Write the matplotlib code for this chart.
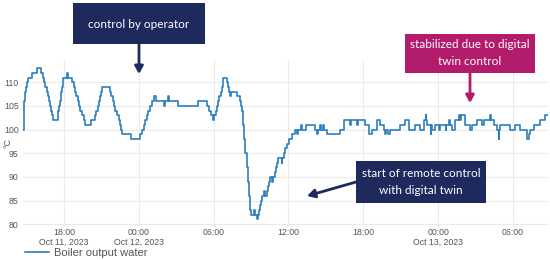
import matplotlib.pyplot as plt
import pandas as pd

# hours since Oct 11, 2023 00:00 and boiler output temperature (°C)
hours = [
    14.73, 14.78, 14.83, 14.88, 14.95, 15.03, 15.13, 15.40, 15.80, 16.15,
    16.33, 16.42, 16.51, 16.60, 16.69, 16.78, 16.87, 16.96, 17.05, 17.14,
    17.48, 17.54, 17.60, 17.66, 17.72, 17.78, 17.84, 17.89, 17.94, 18.20,
    18.30, 18.66, 18.77, 18.88, 18.99, 19.10, 19.21, 19.32, 19.45, 19.57,
    19.68, 20.16, 20.48, 20.60, 20.70, 20.80, 20.90, 20.98, 21.07, 21.68,
    21.80, 21.90, 22.00, 22.12, 22.25, 22.38, 22.50, 22.56, 22.62, 23.35,
    24.10, 24.25, 24.38, 24.50, 24.62, 24.76, 24.90, 25.09, 25.25, 25.35,
    26.00, 26.10, 26.33, 26.42, 27.17, 28.78, 29.45, 29.60, 29.75, 29.92,
    30.05, 30.15, 30.25, 30.35, 30.45, 30.55, 30.65, 30.72, 30.78, 31.06,
    31.15, 31.25, 31.32, 31.40, 31.86, 32.13, 32.22, 32.30,
    32.36, 32.45, 32.55, 32.65, 32.75, 32.85, 32.93, 33.01, 33.25, 33.32,
    33.46, 33.55, 33.62, 33.70, 33.78, 33.87, 34.00, 34.08, 34.30, 34.38,
    34.45, 34.52, 34.70, 34.75, 34.90, 35.00, 35.07, 35.12, 35.45, 35.50,
    35.62, 35.75, 35.90, 36.05, 36.25, 36.50, 36.70, 36.80, 37.00, 37.10,
    37.42, 38.14, 38.25, 38.35, 38.55, 38.62, 38.80, 38.88, 39.08, 40.15,
    40.42, 40.95, 41.05, 41.50, 41.55, 42.15, 42.42, 42.69, 43.09, 43.36,
    43.62, 43.75, 43.85, 44.00, 44.10, 44.96, 45.36, 45.63, 46.16, 46.57,
    46.84, 47.00, 47.06, 47.10, 47.40, 47.46, 47.51, 47.77, 48.10, 48.15,
    48.60, 48.65, 48.84, 48.95, 49.11, 49.38, 49.64, 49.75, 49.85, 50.18,
    50.58, 50.70, 51.12, 51.52, 51.70, 52.18, 52.25, 52.45, 52.70, 52.85,
    52.92, 52.99, 53.79, 54.19, 54.59, 55.13, 55.25, 55.39, 55.66, 56.20,
    56.60, 56.84,
]
temps = [
    100, 103, 106, 108, 109, 110, 111, 112, 113, 112,
    111, 110, 109, 108, 107, 106, 105, 104, 103, 102,
    103, 104, 105, 106, 107, 108, 109, 110, 111, 112,
    111, 110, 109, 108, 107, 106, 105, 104, 103, 102,
    101, 102, 103, 104, 105, 106, 107, 108, 109, 108,
    107, 106, 105, 104, 103, 102, 101, 100, 99, 98,
    99, 100, 101, 102, 103, 104, 105, 106, 107, 106,
    105, 106, 107, 106, 105, 106, 105, 104, 103, 102,
    103, 104, 105, 106, 107, 108, 109, 110, 111, 110,
    109, 108, 107, 108, 107, 106, 105, 104,
    101, 98, 95, 92, 89, 86, 83, 82, 83, 82,
    81, 82, 83, 84, 85, 86, 87, 86, 87, 88,
    89, 90, 89, 90, 91, 92, 93, 94, 93, 94,
    95, 96, 97, 98, 99, 100, 99, 100, 101, 100,
    101, 100, 99, 100, 101, 100, 101, 100, 99, 100,
    102, 101, 102, 101, 102, 101, 99, 100, 102, 101,
    100, 99, 100, 99, 100, 101, 102, 100, 101, 100,
    102, 103, 102, 101, 99, 101, 100, 101, 100, 101,
    100, 101, 102, 101, 100, 102, 103, 102, 103, 101,
    100, 101, 102, 101, 102, 103, 102, 101, 100, 98,
    100, 101, 100, 101, 100, 98, 99, 100, 101, 102,
    103, 103,
]

tick_hours = [18, 24, 30, 36, 42, 48, 54]
tick_labels = ["18:00\nOct 11, 2023", "00:00\nOct 12, 2023", "06:00", "12:00",
               "18:00", "00:00\nOct 13, 2023", "06:00"]
y_ticks = [80, 85, 90, 95, 100, 105, 110]

base = pd.Timestamp("2023-10-11")
times = base + pd.to_timedelta(hours, unit="h")
tick_times = base + pd.to_timedelta(tick_hours, unit="h")

navy = "#1e2a5e"
magenta = "#b31b6b"
line_color = "#2b7fc1"
grey = "#555555"

fig = plt.figure(figsize=(5.5, 2.6), dpi=100)
ax = fig.add_axes([23 / 550, 1 - 227 / 260, 525 / 550, 167 / 260])

ax.plot(times, temps, drawstyle="steps-post", color=line_color, lw=1.2,
        label="Boiler output water")

ax.set_xlim(base + pd.Timedelta(hours=14.71), base + pd.Timedelta(hours=56.81))
ax.set_ylim(79.4, 114.7)
ax.set_xticks(tick_times)
ax.set_xticklabels(tick_labels, family="Liberation Sans", fontsize=6.3,
                   color=grey, linespacing=1.05)
ax.set_yticks(y_ticks)
ax.set_yticklabels([str(v) for v in y_ticks], family="Liberation Sans",
                   fontsize=6.3, color=grey)
ax.tick_params(axis="x", length=0, pad=1)
ax.tick_params(axis="y", length=0, pad=3)
ax.grid(color="#ebebeb", lw=0.8)
for s in ax.spines.values():
    s.set_visible(False)

fig.text(8 / 550, 1 - 143 / 260, "°C", rotation=90, ha="center", va="center",
         fontsize=6.5, color=grey, family="Liberation Sans")

fig.legend(loc="center left", bbox_to_anchor=(25 / 550, 1 - 253 / 260),
           frameon=False, prop={"family": "Liberation Sans", "size": 8},
           handlelength=2.2, handletextpad=0.4, labelcolor=grey,
           borderpad=0, borderaxespad=0)

box_font = {"family": "Lato", "size": 8.5, "color": "white"}


def box(x0, y0, x1, y1, color):
    fig.patches.append(plt.Rectangle((x0 / 550, 1 - y1 / 260), (x1 - x0) / 550,
                                     (y1 - y0) / 260, transform=fig.transFigure,
                                     fc=color, ec="none", zorder=3))


def arrow(x0, y0, x1, y1, color):
    ax.annotate("", xy=(x1, 260 - y1), xytext=(x0, 260 - y0),
                xycoords="figure pixels", textcoords="figure pixels",
                arrowprops=dict(arrowstyle="-|>,head_width=0.25,head_length=0.45",
                                color=color, lw=2, shrinkA=0, shrinkB=0),
                annotation_clip=False)


def label(x, y, text):
    fig.text(x / 550, 1 - y / 260, text, ha="center", va="center",
             linespacing=1.6, zorder=4, **box_font)


box(73, 3, 205, 44, navy)
arrow(139, 44, 139, 74, navy)
label(139, 24, "control by operator")

box(405, 34, 535, 73, magenta)
arrow(470, 73, 470, 103, magenta)
label(470, 53, "stabilized due to digital\ntwin control")

box(356, 161, 486, 203, navy)
arrow(356, 182, 307, 196, navy)
label(421, 182, "start of remote control\nwith digital twin")

fig.savefig("out.png", dpi=100)
